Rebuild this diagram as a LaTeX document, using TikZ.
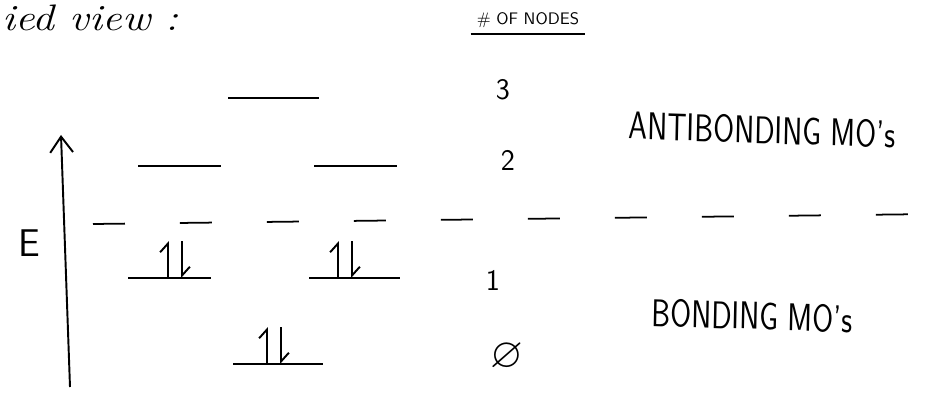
\documentclass[tikz,border=0pt]{standalone}
\usepackage{amssymb}
\usetikzlibrary{arrows.meta}
\tikzset{
  orbital/.style={line width=1.3pt},
  spinarrow/.style={line width=1.1pt,-{Straight Barb[left,length=5pt,width=9pt]}},
  hand/.style={font=\sffamily\fontsize{22}{24}\selectfont,xscale=0.78,transform shape},
  digit/.style={font=\sffamily\fontsize{17}{20}\selectfont},
}
\begin{document}
\begin{tikzpicture}[x=0.02cm,y=-0.02cm]
  \useasboundingbox (0,0) rectangle (947,402);
  % heading
  \node[anchor=base west,inner sep=0pt,font=\itshape\fontsize{21}{24}\selectfont,xscale=1.18,transform shape] (head) at (2,31) {ied view :};
  \node[font=\sffamily\fontsize{9.5}{11}\selectfont] (nodecount) at (528,20) {\# OF NODES};
  \draw[line width=1pt] (nodecount.south west) -- (nodecount.south east);
  % energy axis
  \coordinate (Ebot) at (70,387);
  \coordinate (Etop) at (61,135);
  \draw[line width=1.1pt,-{Straight Barb[length=9pt,width=13pt]}] (Ebot) -- (Etop);
  \node[font=\sffamily\fontsize{22}{24}\selectfont] (E) at (29,243) {E};
  % energy levels
  \draw[orbital] (228,98) -- (319,98);
  \draw[orbital] (138,166) -- (221,166);
  \draw[orbital] (314,166) -- (397,166);
  \draw[orbital] (128,278) -- (211,278);
  \draw[orbital] (309,278) -- (400,278);
  \draw[orbital] (233,364) -- (323,364);
  % electron pairs
  \foreach \cx/\cy in {175/278, 345/278, 274/364} {
    \draw[spinarrow] (\cx-7,\cy) -- (\cx-7,\cy-37);
    \draw[spinarrow] (\cx+7,\cy-37) -- (\cx+7,\cy);
  }
  % bonding / antibonding split
  \draw[line width=1pt,dash pattern=on 0.64cm off 1.1cm] (93,224) -- (935,214);
  % node counts
  \node[digit] (n3) at (503,90) {3};
  \node[digit] (n2) at (508,160) {2};
  \node[digit] (n1) at (493,280) {1};
  \node[digit,font=\fontsize{24}{26}\selectfont] (n0) at (507,357) {$\varnothing$};
  % labels
  \node[hand,rotate=-1.5] (anti) at (762,130) {ANTIBONDING MO's};
  \node[hand,rotate=-1.5] (bond) at (752,316) {BONDING MO's};
\end{tikzpicture}
\end{document}
